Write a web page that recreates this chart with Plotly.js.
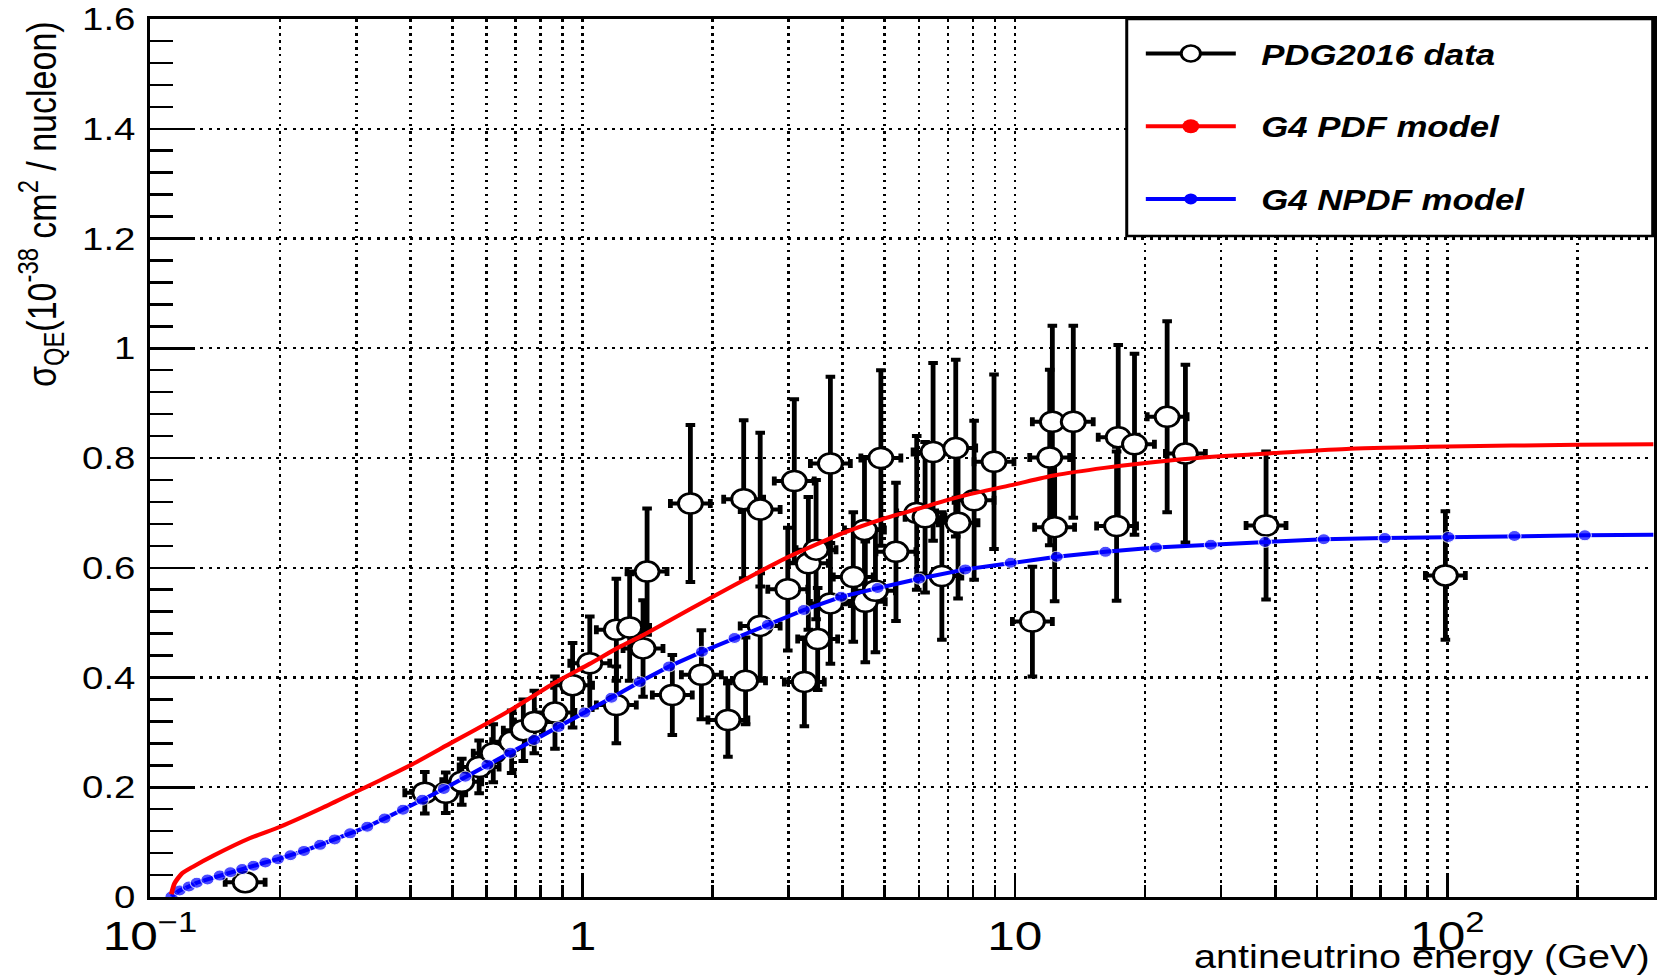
<!DOCTYPE html>
<html>
<head>
<meta charset="utf-8">
<script src="https://cdn.plot.ly/plotly-3.0.1.min.js"></script>
<style>
  html, body { margin: 0; padding: 0; background: #fff; overflow: hidden; }
  #chart { width: 1384px; height: 980px; transform: scaleX(1.2); transform-origin: 0 0; }
</style>
</head>
<body>
<div id="chart"></div>
<script>
// PDG2016 data: antineutrino energy (GeV), sigma_QE, symmetric error
const dataE = [0.166, 0.432, 0.483, 0.526, 0.577, 0.622, 0.686, 0.73, 0.774, 0.864, 0.949, 1.04, 1.198, 1.198, 1.286, 1.381, 1.411, 1.614, 1.777, 1.884, 2.17, 2.36, 2.384, 2.577, 2.577, 2.985, 3.09, 3.26, 3.33, 3.47, 3.50, 3.745, 3.745, 4.23, 4.49, 4.51, 4.76, 4.9, 5.31, 5.93, 6.2, 6.47, 6.78, 7.3, 7.39, 8.05, 8.95, 10.98, 12.04, 12.21, 12.36, 13.65, 17.19, 17.34, 18.91, 22.5, 24.8, 38.1, 99];
const dataSigma = [0.027, 0.19, 0.19, 0.21, 0.237, 0.262, 0.283, 0.304, 0.319, 0.336, 0.386, 0.426, 0.35, 0.487, 0.491, 0.453, 0.593, 0.368, 0.717, 0.405, 0.3225, 0.725, 0.394, 0.706, 0.494, 0.561, 0.758, 0.392, 0.608, 0.633, 0.47, 0.79, 0.535, 0.583, 0.669, 0.538, 0.558, 0.80, 0.629, 0.70, 0.692, 0.811, 0.585, 0.818, 0.682, 0.723, 0.793, 0.502, 0.801, 0.866, 0.674, 0.866, 0.676, 0.838, 0.825, 0.875, 0.808, 0.677, 0.586];
const dataErr = [0.005, 0.038, 0.037, 0.042, 0.048, 0.053, 0.057, 0.056, 0.057, 0.066, 0.077, 0.085, 0.07, 0.093, 0.097, 0.088, 0.115, 0.073, 0.143, 0.081, 0.067, 0.144, 0.079, 0.14, 0.096, 0.112, 0.149, 0.081, 0.121, 0.127, 0.093, 0.158, 0.11, 0.118, 0.133, 0.11, 0.112, 0.16, 0.126, 0.14, 0.137, 0.162, 0.116, 0.161, 0.138, 0.145, 0.159, 0.1, 0.16, 0.175, 0.135, 0.175, 0.136, 0.168, 0.165, 0.174, 0.162, 0.135, 0.117];

// G4 PDF model (red curve)
const redE = [0.112, 0.114, 0.1186, 0.1256, 0.1407, 0.17, 0.2, 0.25, 0.3, 0.341, 0.4, 0.5, 0.6, 0.7, 0.87, 1.04, 1.22, 1.38, 1.6, 2.0, 2.5, 3.0, 4.0, 5.0, 6.0, 7.5, 10, 12.3, 16.1, 22.5, 29.8, 39.8, 59.6, 100, 200, 300];
const redSigma = [0.005, 0.025, 0.043, 0.055, 0.076, 0.107, 0.128, 0.162, 0.192, 0.213, 0.24, 0.282, 0.316, 0.346, 0.392, 0.425, 0.456, 0.477, 0.505, 0.547, 0.588, 0.62, 0.663, 0.69, 0.708, 0.73, 0.752, 0.768, 0.782, 0.795, 0.803, 0.809, 0.817, 0.821, 0.824, 0.825];

// G4 NPDF model (blue curve with points)
const blueE = [0.1121, 0.1171, 0.1230, 0.1283, 0.1358, 0.1450, 0.1534, 0.1634, 0.1735, 0.1848, 0.1976, 0.2113, 0.2270, 0.2474, 0.2674, 0.2903, 0.318, 0.3487, 0.3846, 0.4264, 0.478, 0.536, 0.603, 0.681, 0.773, 0.881, 1.011, 1.167, 1.357, 1.586, 1.89, 2.248, 2.684, 3.25, 3.964, 4.815, 6.0, 7.68, 9.78, 12.5, 16.2, 21.2, 28.4, 37.9, 51.8, 71.7, 100.6, 143, 208, 300];
const blueSigma = [0.001, 0.012, 0.019, 0.026, 0.032, 0.039, 0.045, 0.051, 0.057, 0.063, 0.069, 0.076, 0.084, 0.095, 0.105, 0.116, 0.128, 0.143, 0.159, 0.177, 0.197, 0.219, 0.241, 0.263, 0.286, 0.310, 0.336, 0.363, 0.392, 0.420, 0.447, 0.472, 0.496, 0.523, 0.547, 0.563, 0.580, 0.597, 0.609, 0.620, 0.629, 0.637, 0.642, 0.647, 0.652, 0.654, 0.656, 0.658, 0.659, 0.660];

const legendNames = ['PDG2016 data', 'G4 PDF model', 'G4 NPDF model'];
const xTitle = 'antineutrino energy (GeV)';
const yTitle = 'σ<sub>QE</sub>(10<sup>-38</sup> cm<sup>2</sup> / nucleon)';

const FONT = 'Liberation Sans, Arial, Helvetica, sans-serif';
const blueSizes = blueE.map((e, i) => (i === blueE.length - 1 ? 0 : 11));
const NB = '\u00a0\u00a0';

const traces = [
  {
    x: dataE, y: dataSigma, type: 'scatter', mode: 'markers', showlegend: false,
    marker: { symbol: 'circle', size: 20, color: '#ffffff', line: { color: '#000000', width: 2.5 } },
    error_y: { type: 'data', array: dataErr, visible: true, color: '#000000', thickness: 4, width: 4 },
    error_x: { type: 'percent', symmetric: false, value: 11.2, valueminus: 10.1, visible: true, color: '#000000', thickness: 4, width: 4.5 },
    hoverinfo: 'skip'
  },
  {
    x: blueE, y: blueSigma, type: 'scatter', mode: 'lines+markers', showlegend: false,
    line: { color: '#0000ff', width: 4 },
    marker: { color: '#0000ff', size: blueSizes },
    hoverinfo: 'skip'
  },
  {
    x: redE, y: redSigma, type: 'scatter', mode: 'lines', showlegend: false,
    line: { color: '#ff0000', width: 4, shape: 'spline', smoothing: 0.6 },
    hoverinfo: 'skip'
  },
  // legend entries
  {
    x: [null], y: [null], type: 'scatter', mode: 'lines+markers', name: NB + legendNames[0], legendgroup: 'a',
    line: { color: '#000000', width: 4 },
    marker: { symbol: 'circle', size: 16, color: '#ffffff', line: { color: '#000000', width: 2.5 } }
  },
  {
    x: [null], y: [null], type: 'scatter', mode: 'lines+markers', name: NB + legendNames[1], legendgroup: 'b',
    line: { color: '#ff0000', width: 4 },
    marker: { symbol: 'circle', size: 14, color: '#ff0000' }
  },
  {
    x: [null], y: [null], type: 'scatter', mode: 'lines+markers', name: NB + legendNames[2], legendgroup: 'c',
    line: { color: '#0000ff', width: 4 },
    marker: { symbol: 'circle', size: 11, color: '#0000ff' }
  }
];

const gridStyle = { gridcolor: '#000000', gridwidth: 2.2, griddash: '2.5px,4.5px' };

const layout = {
  width: 1384, height: 980,
  margin: { l: 125, r: 6, t: 19, b: 83, pad: 0 },
  paper_bgcolor: '#ffffff', plot_bgcolor: '#ffffff',
  font: { family: FONT, color: '#000000', size: 32 },
  showlegend: true,
  xaxis: {
    type: 'log', range: [-1, Math.log10(300)], autorange: false,
    showline: true, linecolor: '#000000', linewidth: 2.7, mirror: true,
    ticks: 'inside', ticklen: 24, tickwidth: 2.2, tickcolor: '#000000',
    dtick: 1, tick0: 0, exponentformat: 'power',
    tickfont: { family: FONT, size: 33, color: '#000000' },
    ticklabelstandoff: 2,
    showgrid: true, ...gridStyle,
    zeroline: false,
    minor: { dtick: 'D1', ticks: 'inside', ticklen: 12, tickwidth: 2.2, tickcolor: '#000000', showgrid: true, ...gridStyle }
  },
  yaxis: {
    range: [0, 1.6], autorange: false,
    showline: true, linecolor: '#000000', linewidth: 2.7, mirror: true,
    ticks: 'inside', ticklen: 37.5, tickwidth: 2.5, tickcolor: '#000000',
    dtick: 0.2, tick0: 0,
    tickfont: { family: FONT, size: 32, color: '#000000' },
    ticklabelstandoff: 3,
    showgrid: true, ...gridStyle,
    zeroline: false,
    minor: { dtick: 0.04, ticks: 'inside', ticklen: 18.75, tickwidth: 2.5, tickcolor: '#000000', showgrid: false }
  },
  legend: {
    x: 0.6583, xanchor: 'left', y: 0.9896, yanchor: 'top',
    bgcolor: 'rgba(0,0,0,0)', borderwidth: 0,
    traceorder: 'grouped', tracegroupgap: 32, itemwidth: 75,
    font: { family: FONT, size: 29, color: '#000000', weight: 'bold', style: 'italic' }
  },
  shapes: [
    { type: 'rect', xref: 'paper', yref: 'paper', x0: 0.6496, x1: 0.9994, y0: 0.7528, y1: 1.0,
      line: { color: '#000000', width: 2.5 }, fillcolor: '#ffffff', layer: 'above' }
  ],
  annotations: [
    { text: xTitle, xref: 'paper', yref: 'paper', x: 0.999, y: -0.068, xanchor: 'right', yanchor: 'middle',
      showarrow: false, font: { family: FONT, size: 33, color: '#000000' } },
    { text: yTitle, xref: 'paper', yref: 'paper', x: -0.0726, y: 1.0, xanchor: 'center', yanchor: 'top',
      textangle: -90, showarrow: false, font: { family: FONT, size: 34, color: '#000000' } }
  ]
};

Plotly.newPlot('chart', traces, layout, { displayModeBar: false, staticPlot: true });
</script>
</body>
</html>
